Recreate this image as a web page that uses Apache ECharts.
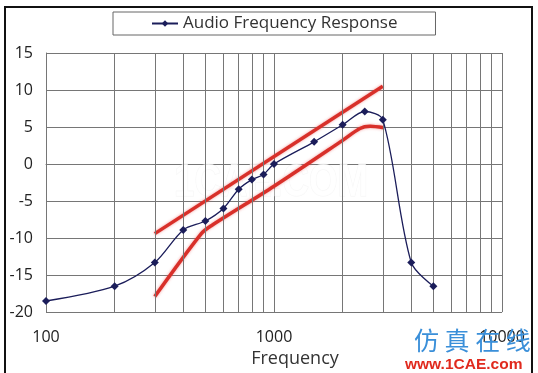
<!DOCTYPE html>
<html>
<head>
<meta charset="utf-8">
<script src="https://cdn.jsdelivr.net/npm/echarts@6/dist/echarts.min.js"></script>
<style>
html,body{margin:0;padding:0;background:#fff;}
#c{width:538px;height:373px;}
</style>
</head>
<body>
<div id="c"></div>
<script>
// ---- data ----
const freqs = [100, 200, 300, 400, 500, 600, 700, 800, 900, 1000, 1500, 2000, 2500, 3000, 4000, 5000];
const response = [-18.5, -16.5, -13.3, -8.9, -7.7, -6.0, -3.4, -2.1, -1.4, 0.0, 3.0, 5.3, 7.1, 6.0, -13.3, -16.5];
const upperFreqs = [300, 3000];
const upperVals = [-9.4, 10.5];
const lowerFreqs = [300, 480, 533, 1000, 2000, 2380, 2640, 3030];
const lowerVals = [-17.9, -9.4, -8.3, -3.0, 3.2, 4.8, 5.1, 4.9];
const minorGridFreqs = [200, 300, 400, 500, 600, 700, 800, 900, 2000, 3000, 4000, 5000, 6000, 7000, 8000, 9000];
const seriesName = 'Audio Frequency Response';
const xName = 'Frequency';

const zip = (a, b) => a.map((v, i) => [v, b[i]]);
const gridColor = '#767676';
const font = '"Open Sans", "Noto Sans", sans-serif';
const red = '#d8302a';

const chart = echarts.init(document.getElementById('c'), null, {renderer: 'canvas'});
chart.setOption({
  animation: false,
  backgroundColor: '#fff',
  grid: {left: 46, right: 36, top: 53, bottom: 59, containLabel: false},
  legend: {
    data: [seriesName],
    left: 113, top: 12,
    padding: [3, 38, 3, 38],
    borderColor: '#666', borderWidth: 1,
    itemWidth: 26, itemHeight: 8,
    textStyle: {fontFamily: font, fontSize: 17, color: '#333'}
  },
  xAxis: {
    type: 'log', logBase: 10, min: 100, max: 10000,
    name: xName, nameLocation: 'middle', nameGap: 36,
    nameTextStyle: {fontFamily: font, fontSize: 18, color: '#333', padding: [0, 0, 0, 42]},
    axisLine: {show: true, lineStyle: {color: gridColor, width: 1}},
    axisTick: {show: false},
    axisLabel: {fontFamily: font, fontSize: 16, color: '#222', margin: 17,
      formatter: v => String(Math.round(v))},
    splitLine: {show: true, lineStyle: {color: gridColor, width: 1}}
  },
  yAxis: {
    type: 'value', min: -20, max: 15, interval: 5,
    axisLine: {show: true, lineStyle: {color: gridColor, width: 1}},
    axisTick: {show: false},
    axisLabel: {fontFamily: font, fontSize: 16, color: '#222', margin: 13},
    splitLine: {show: true, lineStyle: {color: gridColor, width: 1}}
  },
  series: [
    {
      type: 'line', name: 'minor', data: [], silent: true, z: 0,
      markLine: {
        silent: true, symbol: ['none', 'none'], animation: false,
        label: {show: false},
        lineStyle: {color: gridColor, width: 1, type: 'solid'},
        emphasis: {disabled: true},
        data: minorGridFreqs.map(f => ({xAxis: f}))
      }
    },
    {
      type: 'line', name: 'upper', data: zip(upperFreqs, upperVals),
      showSymbol: false, symbol: 'none', silent: true, z: 3,
      lineStyle: {color: red, width: 3.5, shadowColor: 'rgba(235,90,90,0.6)', shadowBlur: 3}
    },
    {
      type: 'line', name: 'lower', data: zip(lowerFreqs, lowerVals),
      showSymbol: false, symbol: 'none', silent: true, smooth: 0.3, z: 3,
      lineStyle: {color: red, width: 3.5, shadowColor: 'rgba(235,90,90,0.6)', shadowBlur: 3}
    },
    {
      type: 'line', name: seriesName, data: zip(freqs, response),
      smooth: 0.3, symbol: 'diamond', symbolSize: 8, z: 5,
      itemStyle: {color: '#1b1d5a'},
      lineStyle: {color: '#1b1d5a', width: 1.3}
    }
  ],
  graphic: [
    {type: 'rect', shape: {x: 5, y: 7, width: 527, height: 380}, z: 100, silent: true,
      style: {fill: 'none', stroke: '#111', lineWidth: 2}},
    {type: 'text', x: 174, y: 160, z: 1, silent: true, scaleX: 0.8,
      style: {text: '1CAE.COM', fontFamily: '"Liberation Sans", sans-serif', fontWeight: 'bold', fontSize: 46,
        fill: 'rgba(255,255,255,0.8)', stroke: 'rgba(225,225,225,0.35)', lineWidth: 1}},
    {type: 'text', left: 414, top: 328, z: 60, silent: true,
      style: {text: '仿 真 在 线', fontFamily: '"Noto Sans CJK SC", sans-serif', fontSize: 25,
        fill: '#3a8fd9'}},
    {type: 'text', left: 405, top: 357, z: 60, silent: true,
      style: {text: 'www.1CAE.com', fontFamily: '"Liberation Sans", Arial, sans-serif', fontWeight: 'bold', fontSize: 15.5,
        fill: '#e02a1e'}}
  ]
});
</script>
</body>
</html>
